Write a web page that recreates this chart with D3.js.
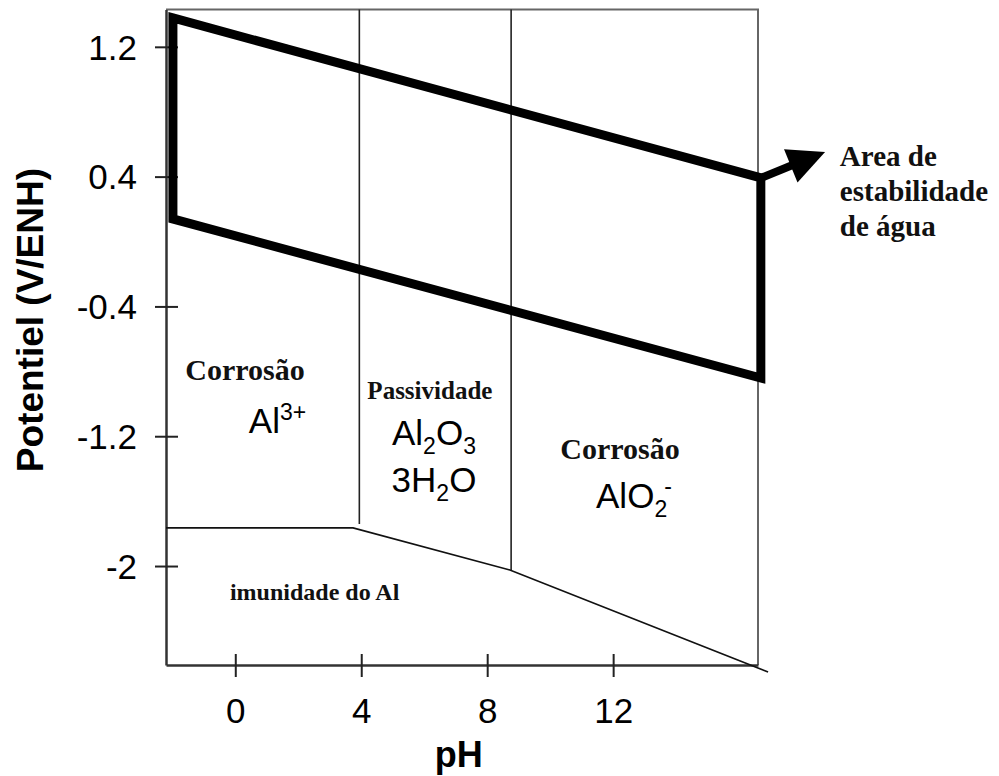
<!DOCTYPE html>
<html>
<head>
<meta charset="utf-8">
<script src="https://cdn.jsdelivr.net/npm/d3@7"></script>
<style>
  body { margin: 0; background: #fff; }
  svg { display: block; }
</style>
</head>
<body>
<div class="viz-container"></div>
<script>
// axis ranges and ticks (pH, V/ENH)
const phDomain = [-2.2, 16.6];
const eDomain = [-2.61, 1.43];
const xTicks = [0, 4, 8, 12];
const yTicks = [1.2, 0.4, -0.4, -1.2, -2];

// water stability area (upper and lower lines)
const waterUpper = [[-1.98, 1.378], [16.69, 0.392]];
const waterLower = [[-1.98, 0.139], [16.69, -0.841]];
const arrowLine = [[16.69, 0.392], [18.73, 0.552]];

// phase boundaries
const vBoundaries = [
    { ph: 3.94, top: 1.43, bottom: -1.741 },
    { ph: 8.76, top: 1.43, bottom: -2.024 }
];
const immunityLine = [[-2.2, -1.765], [3.74, -1.765], [8.72, -2.024], [16.92, -2.653]];

// labels
const serifLabels = [
    { text: "Corrosão", ph: 0.31, e: -0.853, size: 30 },
    { text: "Passividade", ph: 6.18, e: -0.970, size: 25 },
    { text: "Corrosão", ph: 12.22, e: -1.340, size: 30 },
    { text: "imunidade do Al", ph: 2.52, e: -2.209, size: 24 }
];
const waterLabel = ["Area de", "estabilidade", "de água"];
const waterLabelPos = { ph: 19.2, e: [0.463, 0.247, 0.031] };

const width = 999, height = 776;
const margin = { top: 9.5, right: 241, bottom: 111, left: 166 };

const svg = d3.select(".viz-container").append("svg")
              .attr("width", width)
              .attr("height", height);

const x = d3.scaleLinear()
            .domain(phDomain)
            .range([margin.left, width - margin.right]);

const y = d3.scaleLinear()
            .domain(eDomain)
            .range([height - margin.bottom, margin.top]);

const line = d3.line().x(d => x(d[0])).y(d => y(d[1]));

// frame: top and right
svg.append("path")
   .attr("d", line([[phDomain[0], eDomain[1]], [phDomain[1], eDomain[1]], [phDomain[1], eDomain[0]]]))
   .attr("fill", "none")
   .attr("stroke", "#666")
   .attr("stroke-width", 2);

// axes
const xAxis = svg.append("g")
                 .attr("transform", `translate(0,${y(eDomain[0])})`)
                 .call(d3.axisBottom(x).tickValues(xTicks).tickSize(12).tickSizeOuter(0).tickPadding(21));

const yAxis = svg.append("g")
                 .attr("transform", `translate(${x(phDomain[0])},0)`)
                 .call(d3.axisLeft(y).tickValues(yTicks).tickFormat(d => d).tickSize(11).tickSizeOuter(0).tickPadding(18));

[xAxis, yAxis].forEach(a => {
    a.select(".domain").attr("stroke", "#333").attr("stroke-width", 2.5);
    a.selectAll(".tick line").attr("stroke", "#222").attr("stroke-width", 2);
    a.selectAll("text")
     .attr("fill", "#000")
     .style("font-family", "'Liberation Sans', Arial, sans-serif")
     .style("font-size", "35px");
});
xAxis.selectAll(".tick line").attr("y1", -11);
yAxis.selectAll(".tick line").attr("x1", 12);
yAxis.selectAll(".tick text").attr("dy", "0.35em");

// axis titles
svg.append("text")
   .attr("x", x(7.1))
   .attr("y", 767)
   .attr("text-anchor", "middle")
   .style("font-family", "'Liberation Sans', Arial, sans-serif")
   .style("font-weight", "bold")
   .style("font-size", "36px")
   .text("pH");

svg.append("text")
   .attr("transform", `translate(43, ${y(-0.484)}) rotate(-90)`)
   .attr("text-anchor", "middle")
   .style("font-family", "'Liberation Sans', Arial, sans-serif")
   .style("font-weight", "bold")
   .style("font-size", "37px")
   .text("Potentiel (V/ENH)");

// phase boundaries
svg.selectAll(".vb")
   .data(vBoundaries)
   .enter().append("line")
   .attr("class", "vb")
   .attr("x1", d => x(d.ph)).attr("x2", d => x(d.ph))
   .attr("y1", d => y(d.top)).attr("y2", d => y(d.bottom))
   .attr("stroke", "#222")
   .attr("stroke-width", 1.6);

svg.append("path")
   .attr("d", line(immunityLine))
   .attr("fill", "none")
   .attr("stroke", "#111")
   .attr("stroke-width", 1.6);

// water stability area
svg.append("path")
   .attr("d", line([waterUpper[0], waterUpper[1], waterLower[1], waterLower[0]]) + "Z")
   .attr("fill", "none")
   .attr("stroke", "#000")
   .attr("stroke-width", 9)
   .attr("stroke-linejoin", "miter");

// arrow
const p0 = [x(arrowLine[0][0]), y(arrowLine[0][1])];
const p1 = [x(arrowLine[1][0]), y(arrowLine[1][1])];
const len = Math.hypot(p1[0] - p0[0], p1[1] - p0[1]);
const ux = (p1[0] - p0[0]) / len, uy = (p1[1] - p0[1]) / len;
const headLen = 37, headHalf = 18;
const base = [p1[0] - ux * headLen, p1[1] - uy * headLen];

svg.append("line")
   .attr("x1", p0[0]).attr("y1", p0[1])
   .attr("x2", base[0] + ux * 4).attr("y2", base[1] + uy * 4)
   .attr("stroke", "#000")
   .attr("stroke-width", 8);

svg.append("path")
   .attr("d", `M${p1[0]},${p1[1]}L${base[0] - uy * headHalf},${base[1] + ux * headHalf}L${base[0] + uy * headHalf},${base[1] - ux * headHalf}Z`)
   .attr("fill", "#000");

// serif labels
svg.selectAll(".slabel")
   .data(serifLabels)
   .enter().append("text")
   .attr("class", "slabel")
   .attr("x", d => x(d.ph))
   .attr("y", d => y(d.e))
   .attr("text-anchor", "middle")
   .style("font-family", "'Liberation Serif', 'Times New Roman', serif")
   .style("font-weight", "bold")
   .style("font-size", d => d.size + "px")
   .attr("fill", "#111")
   .text(d => d.text);

svg.selectAll(".wlabel")
   .data(waterLabel)
   .enter().append("text")
   .attr("class", "wlabel")
   .attr("x", x(waterLabelPos.ph))
   .attr("y", (d, i) => y(waterLabelPos.e[i]))
   .style("font-family", "'Liberation Serif', 'Times New Roman', serif")
   .style("font-weight", "bold")
   .style("font-size", "29px")
   .attr("fill", "#111")
   .text(d => d);

// chemical formulas with sub/superscripts
const formulas = [
    { ph: 1.34, e: -1.180, parts: [["Al", 0], ["3+", -13]] },
    { ph: 6.31, e: -1.254, parts: [["Al", 0], ["2", 9], ["O", 0], ["3", 9]] },
    { ph: 6.31, e: -1.544, parts: [["3H", 0], ["2", 9], ["O", 0]] },
    { ph: 12.66, e: -1.642, parts: [["AlO", 0], ["2", 9], ["-", -14]] }
];

formulas.forEach(f => {
    const t = svg.append("text")
                 .attr("x", x(f.ph))
                 .attr("y", y(f.e))
                 .attr("text-anchor", "middle")
                 .style("font-family", "'Liberation Sans', Arial, sans-serif")
                 .style("font-size", "35px")
                 .attr("fill", "#000");
    let prev = 0;
    f.parts.forEach(([s, shift], i) => {
        const ts = t.append("tspan")
                    .attr("dy", shift - prev)
                    .text(s);
        if (shift !== 0) ts.style("font-size", "23px");
        if (s === "-") ts.attr("dx", -3);
        prev = shift;
    });
});
</script>
</body>
</html>
